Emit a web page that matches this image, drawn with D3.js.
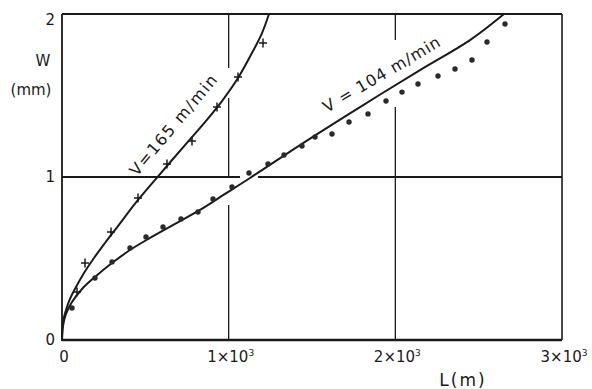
<!DOCTYPE html>
<html><head><meta charset="utf-8">
<script src="https://cdn.jsdelivr.net/npm/d3@7"></script>
<style>body{margin:0;background:#fff}</style>
</head><body>
<svg id="c" width="592" height="389"></svg>
<script>
// ---- data ----
const xTicks = [0, 1000, 2000, 3000];
const xTickBase = ["0", "1×10", "2×10", "3×10"];
const xTickExp = ["", "3", "3", "3"];
const yTicks = [0, 1, 2];
const yTickLabels = ["0", "1", "2"];
// grid lines, drawn by hand with breaks where curves / labels cross (W ranges, L ranges)
const xGridL = [1000, 2000];
const xGridSpans = [[[0, 0.828], [0.994, 1.485], [1.669, 2]], [[0, 1.429], [1.84, 2]]];
const yGridW = [1];
const yGridSpans = [[[0, 1068], [1176, 3000]]];

// fitted curve, v = 165 m/min  [L (m), W (mm)]
const fit165 = [[0,0],[6,0.110],[24,0.184],[48,0.252],[84,0.325],[132,0.411],[192,0.503],[258,0.595],[336,0.699],[456,0.859],[588,1.018],[738,1.196],[858,1.337],[960,1.466],[1056,1.607],[1146,1.773],[1200,1.883],[1242,2.0]];
// measured points, v = 165 m/min
const pts165 = [[90,0.294],[138,0.472],[294,0.663],[456,0.871],[630,1.08],[780,1.221],[930,1.429],[1056,1.613],[1206,1.822]];
// fitted curve, v = 104 m/min
const fit104 = [[0,0],[6,0.086],[24,0.160],[60,0.233],[120,0.313],[198,0.387],[300,0.472],[408,0.552],[528,0.626],[678,0.712],[828,0.798],[978,0.896],[1128,0.994],[1428,1.196],[1788,1.429],[2148,1.656],[2448,1.840],[2652,2.0]];
// measured points, v = 104 m/min
const pts104 = [[60,0.196],[198,0.38],[300,0.479],[408,0.564],[504,0.632],[606,0.693],[714,0.742],[816,0.785],[906,0.865],[1020,0.939],[1122,1.025],[1236,1.08],[1332,1.135],[1440,1.19],[1518,1.245],[1620,1.264],[1722,1.337],[1836,1.387],[1944,1.466],[2040,1.521],[2136,1.571],[2256,1.62],[2358,1.663],[2460,1.718],[2550,1.828],[2658,1.939]];

const labels = [
  {text: "V=165 m/min", at: [450, 1.0], angle: -50, len: 126},
  {text: "V = 104  m/min", at: [1590, 1.393], angle: -30.5, len: 133}
];

// ---- drawing ----
const svg = d3.select("#c");
const font = "'DejaVu Sans', sans-serif";
const ink = "#1a1a1a";
const x = d3.scaleLinear().domain([0, 3000]).range([62, 562]);
const y = d3.scaleLinear().domain([0, 2]).range([340, 14]);

// gridlines
xGridL.forEach((L, i) => {
  svg.selectAll(null).data(xGridSpans[i]).join("line")
    .attr("x1", x(L)).attr("x2", x(L))
    .attr("y1", s => y(s[0])).attr("y2", s => y(s[1]))
    .attr("stroke", ink).attr("stroke-width", 1.3);
});
yGridW.forEach((W, i) => {
  svg.selectAll(null).data(yGridSpans[i]).join("line")
    .attr("x1", s => x(s[0])).attr("x2", s => x(s[1]))
    .attr("y1", y(W)).attr("y2", y(W))
    .attr("stroke", ink).attr("stroke-width", 1.8);
});

// frame
svg.append("line").attr("x1", x(0)).attr("x2", x(3000)).attr("y1", y(0)).attr("y2", y(0)).attr("stroke", ink).attr("stroke-width", 2.6);
svg.append("line").attr("x1", x(0)).attr("x2", x(3000)).attr("y1", y(2)).attr("y2", y(2)).attr("stroke", ink).attr("stroke-width", 2);
svg.append("line").attr("x1", x(0)).attr("x2", x(0)).attr("y1", y(0)).attr("y2", y(2)).attr("stroke", ink).attr("stroke-width", 1.8);
svg.append("line").attr("x1", x(3000)).attr("x2", x(3000)).attr("y1", y(0)).attr("y2", y(2)).attr("stroke", ink).attr("stroke-width", 1.6);

// curves
const line = d3.line().x(d => x(d[0])).y(d => y(d[1])).curve(d3.curveCatmullRom.alpha(0.5));
[fit165, fit104].forEach(f => {
  svg.append("path").attr("d", line(f)).attr("fill", "none")
    .attr("stroke", ink).attr("stroke-width", 2).attr("stroke-linecap", "round");
});

// markers
svg.selectAll(".p165").data(pts165).join("path")
  .attr("transform", d => `translate(${x(d[0])},${y(d[1])})`)
  .attr("d", "M-4,0H4M0,-4.5V4.5").attr("stroke", ink).attr("stroke-width", 1.5);
svg.selectAll(".p104").data(pts104).join("circle")
  .attr("cx", d => x(d[0])).attr("cy", d => y(d[1])).attr("r", 2.7)
  .attr("fill", "#2a2a2a");

// tick labels
svg.selectAll(".yl").data(yTicks).join("text")
  .attr("x", 55).attr("y", d => y(d) + (d === 2 ? 11 : 5))
  .attr("text-anchor", "end").attr("font-family", font).attr("font-size", 15).attr("fill", ink)
  .text((d, i) => yTickLabels[i]);
const xl = svg.selectAll(".xl").data(xTicks).join("text")
  .attr("x", d => x(d) + 2).attr("y", 362)
  .attr("text-anchor", "middle").attr("font-family", font).attr("font-size", 15).attr("fill", ink);
xl.append("tspan").text((d, i) => xTickBase[i]);
xl.append("tspan").attr("dy", -6).attr("font-size", 9).text((d, i) => xTickExp[i]);

// axis titles
svg.append("text").attr("x", 43).attr("y", 66).attr("text-anchor", "middle")
  .attr("font-family", font).attr("font-size", 15).attr("fill", ink).text("W");
svg.append("text").attr("x", 31).attr("y", 95).attr("text-anchor", "middle")
  .attr("font-family", font).attr("font-size", 15).attr("fill", ink).text("(mm)");
svg.append("text").attr("x", 463).attr("y", 386).attr("text-anchor", "middle")
  .attr("font-family", font).attr("font-size", 17).attr("letter-spacing", 2).attr("fill", ink).text("L(m)");

// curve labels
labels.forEach(l => {
  svg.append("text")
    .attr("transform", `translate(${x(l.at[0])},${y(l.at[1])}) rotate(${l.angle})`)
    .attr("font-family", font).attr("font-size", 16).attr("fill", ink)
    .attr("textLength", l.len).attr("lengthAdjust", "spacing")
    .text(l.text);
});
</script>
</body></html>
